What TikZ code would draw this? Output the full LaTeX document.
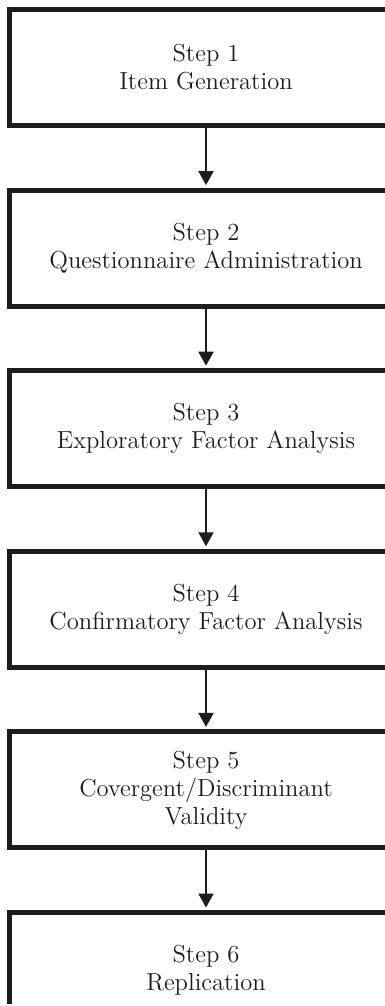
\documentclass[tikz,border=0pt]{standalone}
\usepackage{tikz}
\usetikzlibrary{arrows.meta}
\definecolor{ink}{HTML}{1E1C1D}

\begin{document}
\begin{tikzpicture}[x=0.5pt, y=-0.5pt,
  stepbox/.style={draw=ink, line width=2.5pt, minimum width=196.5pt, minimum height=58pt,
    align=center, text=ink, inner sep=0pt, font=\fontsize{12.3}{14}\selectfont},
  flow/.style={draw=ink, line width=1pt, -{Triangle[width=7.5pt,length=7pt]}, shorten >=1.25pt}]
  \useasboundingbox (0,0) rectangle (385,1006);
  \clip (0,0) rectangle (385,1003);
  % steps of the procedure
  \node[stepbox] (s1) at (206,67.5)  {Step 1\\Item Generation};
  \node[stepbox] (s2) at (206,248.1) {Step 2\\Questionnaire Administration};
  \node[stepbox] (s3) at (206,428.7) {Step 3\\Exploratory Factor Analysis};
  \node[stepbox] (s4) at (206,609.3) {Step 4\\Confirmatory Factor Analysis};
  \node[stepbox] (s5) at (206,789.9) {Step 5\\Covergent/Discriminant\\Validity};
  \node[stepbox] (s6) at (206,970.5) {Step 6\\Replication};
  % arrows between steps
  \foreach \a/\b in {s1/s2,s2/s3,s3/s4,s4/s5,s5/s6}
    \draw[flow] (\a.south) -- (\b.north);
\end{tikzpicture}
\end{document}
